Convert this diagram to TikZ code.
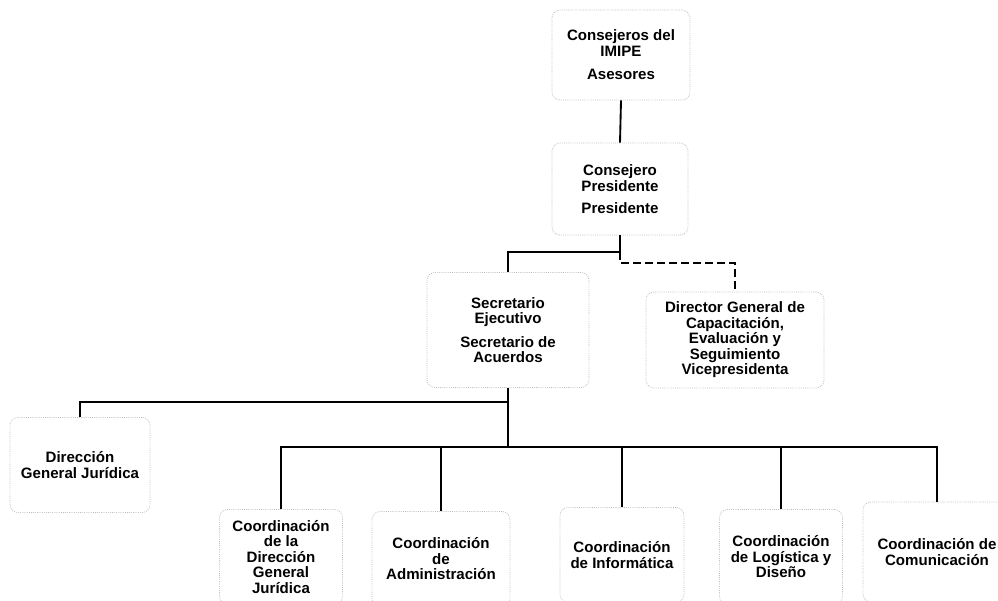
\documentclass[tikz,border=0pt]{standalone}
\usepackage{fontspec}
\setmainfont{Liberation Sans}
\newcommand\pxu{0.75pt}
\tikzset{
  box/.style={draw=gray!55, densely dotted, line width=0.6pt, rounded corners=6pt,
    inner sep=0pt, align=center, font=\bfseries\fontsize{11.3}{11.6}\selectfont},
  conn/.style={line width=1.4pt, draw=black},
  dconn/.style={line width=1.6pt, draw=black, dash pattern=on 6pt off 3pt},
}
\begin{document}
\begin{tikzpicture}[x=0.75pt,y=-0.75pt]
\useasboundingbox (0,0) rectangle (998,600);
\clip (0,0) rectangle (998,600);
\fill[white] (0,0) rectangle (998,600);
% top boxes
\node[box, minimum width=138*\pxu, minimum height=90*\pxu] (n1) at (621,55)
  {Consejeros del\\IMIPE\\[6pt]Asesores};
\node[box, minimum width=136*\pxu, minimum height=92*\pxu] (n2) at (620,189)
  {Consejero\\Presidente\\[5pt]Presidente};
\node[box, minimum width=162*\pxu, minimum height=115*\pxu] (n3) at (508,330)
  {Secretario\\Ejecutivo\\[6pt]Secretario de\\Acuerdos};
\node[box, minimum width=178*\pxu, minimum height=96*\pxu] (n4) at (735,340)
  {Director General de\\Capacitación,\\Evaluación y\\Seguimiento\\Vicepresidenta};
\node[box, minimum width=140*\pxu, minimum height=95*\pxu] (n5) at (80,465)
  {Dirección\\General Jurídica};
% bottom row
\node[box, minimum width=123*\pxu, minimum height=95*\pxu] (c1) at (281,557)
  {Coordinación\\de la\\Dirección\\General\\Jurídica};
\node[box, minimum width=138*\pxu, minimum height=95*\pxu] (c2) at (441,559)
  {Coordinación\\de\\Administración};
\node[box, minimum width=124*\pxu, minimum height=95*\pxu] (c3) at (622,555)
  {Coordinación\\de Informática};
\node[box, minimum width=123*\pxu, minimum height=95*\pxu] (c4) at (781,557)
  {Coordinación\\de Logística y\\Diseño};
\node[box, minimum width=148*\pxu, minimum height=100*\pxu] (c5) at (937,552)
  {Coordinación de\\Comunicación};
% connectors
\coordinate (s1) at (620,252);
\coordinate (s2) at (620,263);
\coordinate (b1) at (508,402);
\coordinate (b2) at (508,447);
\draw[conn] (n1.south) -- (n2.north);
\draw[conn] (n2.south) -- (s1) -| (n3.north);
\draw[dconn] (s1) -- (s2) -| (n4.north);
\draw[conn] (n3.south) -- (b2);
\draw[conn] (b1) -| (n5.north);
\draw[conn] (c1.north) |- (b2) -| (c5.north);
\draw[conn] (c2.north) -- (c2.north |- b2);
\draw[conn] (c3.north) -- (c3.north |- b2);
\draw[conn] (c4.north) -- (c4.north |- b2);
\end{tikzpicture}
\end{document}
